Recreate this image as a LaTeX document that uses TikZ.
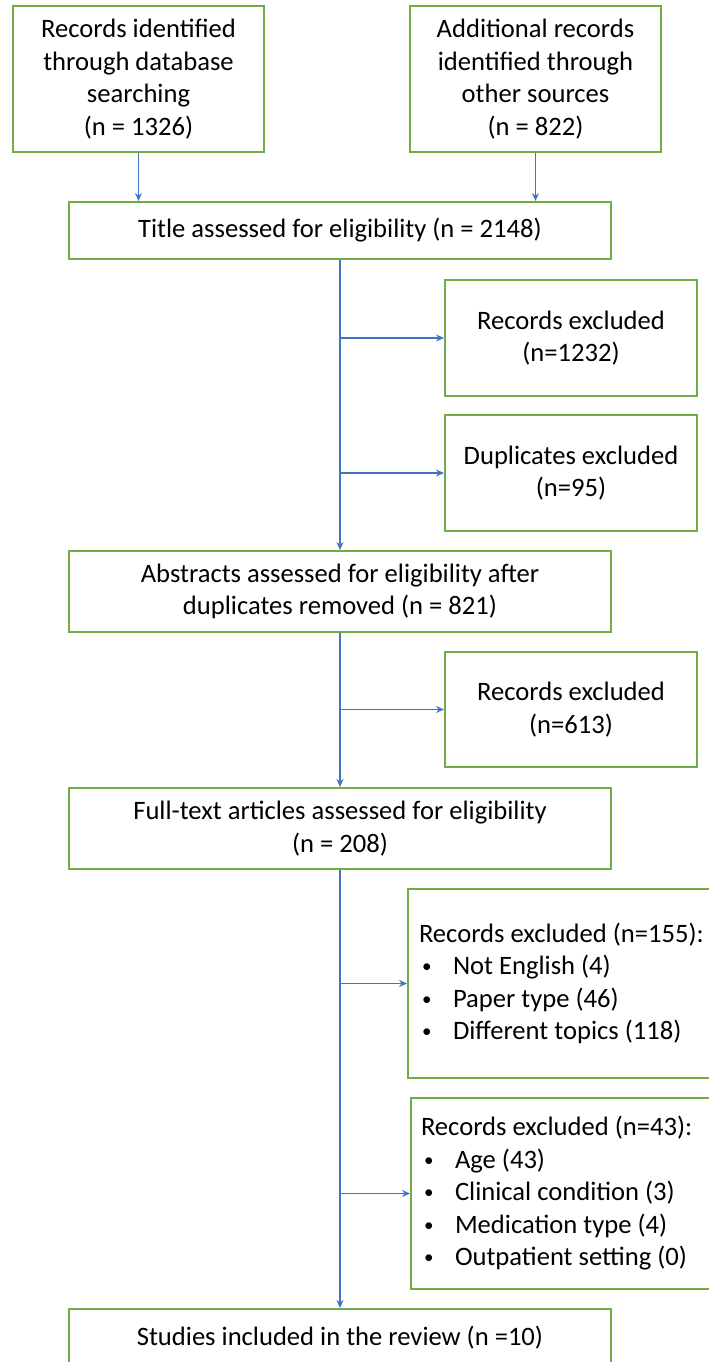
\documentclass[tikz,border=0pt]{standalone}
\usepackage{fontspec}
\setmainfont{Carlito}
\usetikzlibrary{arrows.meta}
\definecolor{boxgreen}{RGB}{112,173,71}
\definecolor{arrowblue}{RGB}{68,114,196}
\newcommand{\pbul}{\hspace*{3pt}\makebox[31pt][l]{\raisebox{2pt}{\fontsize{19pt}{19pt}\selectfont •}}}
\begin{document}
\begin{tikzpicture}[x=1pt,y=-1pt,
  box/.style={draw=boxgreen, line width=2pt, inner sep=0pt, align=center,
    font=\fontsize{26.6pt}{32.5pt}\selectfont, text=black},
  listbox/.style={box, align=flush left, text width=300pt, minimum height=#1},
  conn/.style={draw=arrowblue, line width=1.5pt, -{Stealth[length=8pt,width=7pt]}}]
\useasboundingbox (0,0) rectangle (709,1362);
\clip (0,0) rectangle (709,1362);
\fill[white] (0,0) rectangle (709,1362);

\node[box, minimum width=251pt, minimum height=146pt] (A) at (138.5,79)
  {Records identified\\through database\\searching\\(n = 1326)};
\node[box, minimum width=251pt, minimum height=146pt] (B) at (535.5,79)
  {Additional records\\identified through\\other sources\\(n = 822)};
\node[box, minimum width=542pt, minimum height=57pt] (C) at (340,230.5)
  {Title assessed for eligibility (n = 2148)};
\node[box, minimum width=252pt, minimum height=116pt] (D) at (571,338)
  {Records excluded\\(n=1232)};
\node[box, minimum width=252pt, minimum height=116pt] (E) at (571,473)
  {Duplicates excluded\\(n=95)};
\node[box, minimum width=542pt, minimum height=81pt] (F) at (340,591.5)
  {Abstracts assessed for eligibility after\\duplicates removed (n = 821)};
\node[box, minimum width=252pt, minimum height=115pt] (G) at (571,709.5)
  {Records excluded\\(n=613)};
\node[box, minimum width=542pt, minimum height=81pt] (H) at (340,828.5)
  {Full-text articles assessed for eligibility\\(n = 208)};
\node[listbox=189pt, inner xsep=11pt] (I) at (569,983.5)
  {Records excluded (n=155):\\
   \pbul Not English (4)\\
   \pbul Paper type (46)\\
   \pbul Different topics (118)};
\node[listbox=191pt, inner xsep=10pt] (J) at (571,1193.5)
  {Records excluded (n=43):\\
   \pbul Age (43)\\
   \pbul Clinical condition (3)\\
   \pbul Medication type (4)\\
   \pbul Outpatient setting (0)};
\node[box, minimum width=542pt, minimum height=57pt] (K) at (340,1337.5)
  {Studies included in the review (n =10)};

\draw[conn] (A.south) -- (A.south |- C.north);
\draw[conn] (B.south) -- (B.south |- C.north);
\draw[conn] (C.south) -- (F.north);
\draw[conn] (C.south |- D.west) -- (D.west);
\draw[conn] (C.south |- E.west) -- (E.west);
\draw[conn] (F.south) -- (H.north);
\draw[conn] (F.south |- G.west) -- (G.west);
\draw[conn] (H.south) -- (K.north);
\draw[conn] (H.south |- I.west) -- (I.west);
\draw[conn] (H.south |- J.west) -- (J.west);
\end{tikzpicture}
\end{document}
